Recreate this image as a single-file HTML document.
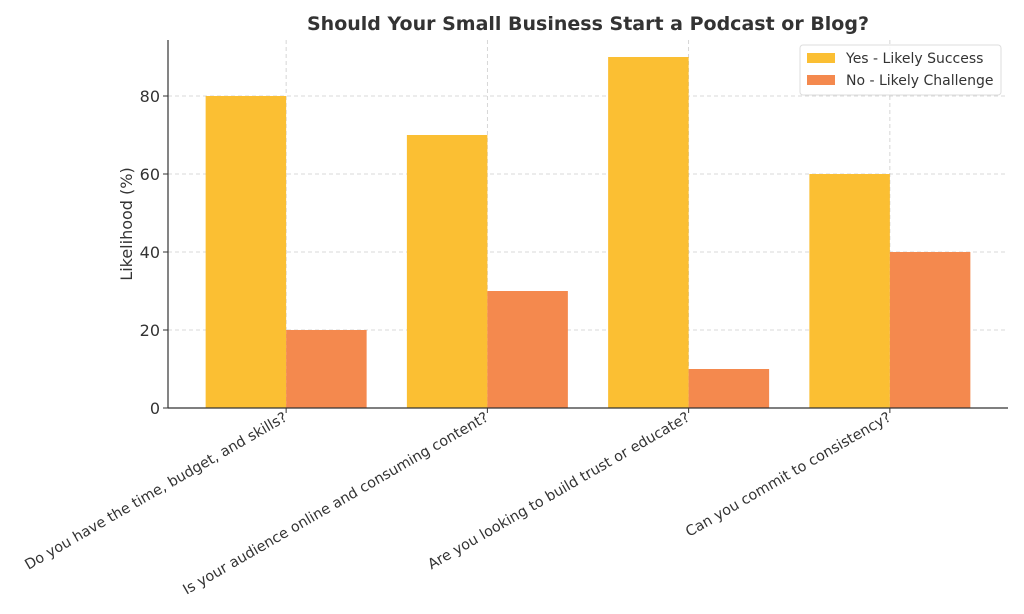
<!DOCTYPE html>
<html><head><meta charset="utf-8"><style>
html,body{margin:0;padding:0;background:#fff;}
svg{display:block;font-family:"DejaVu Sans","Liberation Sans",sans-serif;}
</style></head><body>
<svg id="chart" width="1024" height="614" viewBox="0 0 1024 614">
<text x="588" y="30" text-anchor="middle" font-size="19" font-weight="bold" fill="#333">Should Your Small Business Start a Podcast or Blog?</text>
<text transform="translate(132,224) rotate(-90)" text-anchor="middle" font-size="16" fill="#333">Likelihood (%)</text>
<g id="grid"></g><g id="bars"></g><g id="axes"></g>
<g>
<rect x="800" y="45" width="201" height="50" fill="#fff" fill-opacity="0.85" stroke="#ddd" rx="3"></rect>
<rect x="807" y="53" width="28" height="10" fill="#FBBF33"></rect>
<text x="846" y="63" font-size="14" fill="#333">Yes - Likely Success</text>
<rect x="807" y="75" width="28" height="10" fill="#F4894E"></rect>
<text x="846" y="85" font-size="14" fill="#333">No - Likely Challenge</text>
</g>
</svg>
<script>
const categories=["Do you have the time, budget, and skills?","Is your audience online and consuming content?","Are you looking to build trust or educate?","Can you commit to consistency?"];
const yesValues=[80,70,90,60];
const noValues=[20,30,10,40];
const yTicks=[0,20,40,60,80];
const NS="http://www.w3.org/2000/svg";
const L=168,R=1008,T=40,B=408;
const yMax=94.36;
const x=i=>L+(i+0.587)/(categories.length-1+1.174)*(R-L);
const step=(R-L)/(categories.length-1+1.174);
const y=v=>B-v/yMax*(B-T);
function mk(tag,attrs,parent){const e=document.createElementNS(NS,tag);for(const k in attrs)e.setAttribute(k,attrs[k]);parent.appendChild(e);return e;}
const grid=document.getElementById('grid'),bars=document.getElementById('bars'),axes=document.getElementById('axes');
yTicks.forEach(t=>{
  const g=mk('line',{x1:L,x2:R,y1:y(t),y2:y(t),stroke:'#ccc','stroke-dasharray':'4,3','stroke-width':0.8},grid);
  
  
  mk('line',{x1:L-5,x2:L,y1:y(t),y2:y(t),stroke:'#333'},axes);
  const tx=mk('text',{x:L-8,y:y(t)+6,'text-anchor':'end','font-size':16,fill:'#333'},axes);
  tx.textContent=t;
  
  
});
const bw=step*0.4;
categories.forEach((c,i)=>{
  const cx=x(i);
  const g=mk('line',{x1:cx,x2:cx,y1:T,y2:B,stroke:'#ccc','stroke-dasharray':'4,3','stroke-width':0.8},grid);
  
  
  const b1=mk('rect',{x:cx-bw,y:y(yesValues[i]),width:bw,height:B-y(yesValues[i]),fill:'#FBBF33'},bars);
  
  
  const b2=mk('rect',{x:cx,y:y(noValues[i]),width:bw,height:B-y(noValues[i]),fill:'#F4894E'},bars);
  
  
  mk('line',{x1:cx,x2:cx,y1:B,y2:B+5,stroke:'#333'},axes);
  const tx=mk('text',{transform:`translate(${cx+2},${B+12}) rotate(-30)`,'text-anchor':'end','font-size':14.4,fill:'#333'},axes);
  tx.textContent=c;
  
  
});
mk('line',{x1:L,x2:L,y1:T,y2:B,stroke:'#333','stroke-width':1.2},axes);
mk('line',{x1:L,x2:R,y1:B,y2:B,stroke:'#333','stroke-width':1.2},axes);
</script>
</body></html>
